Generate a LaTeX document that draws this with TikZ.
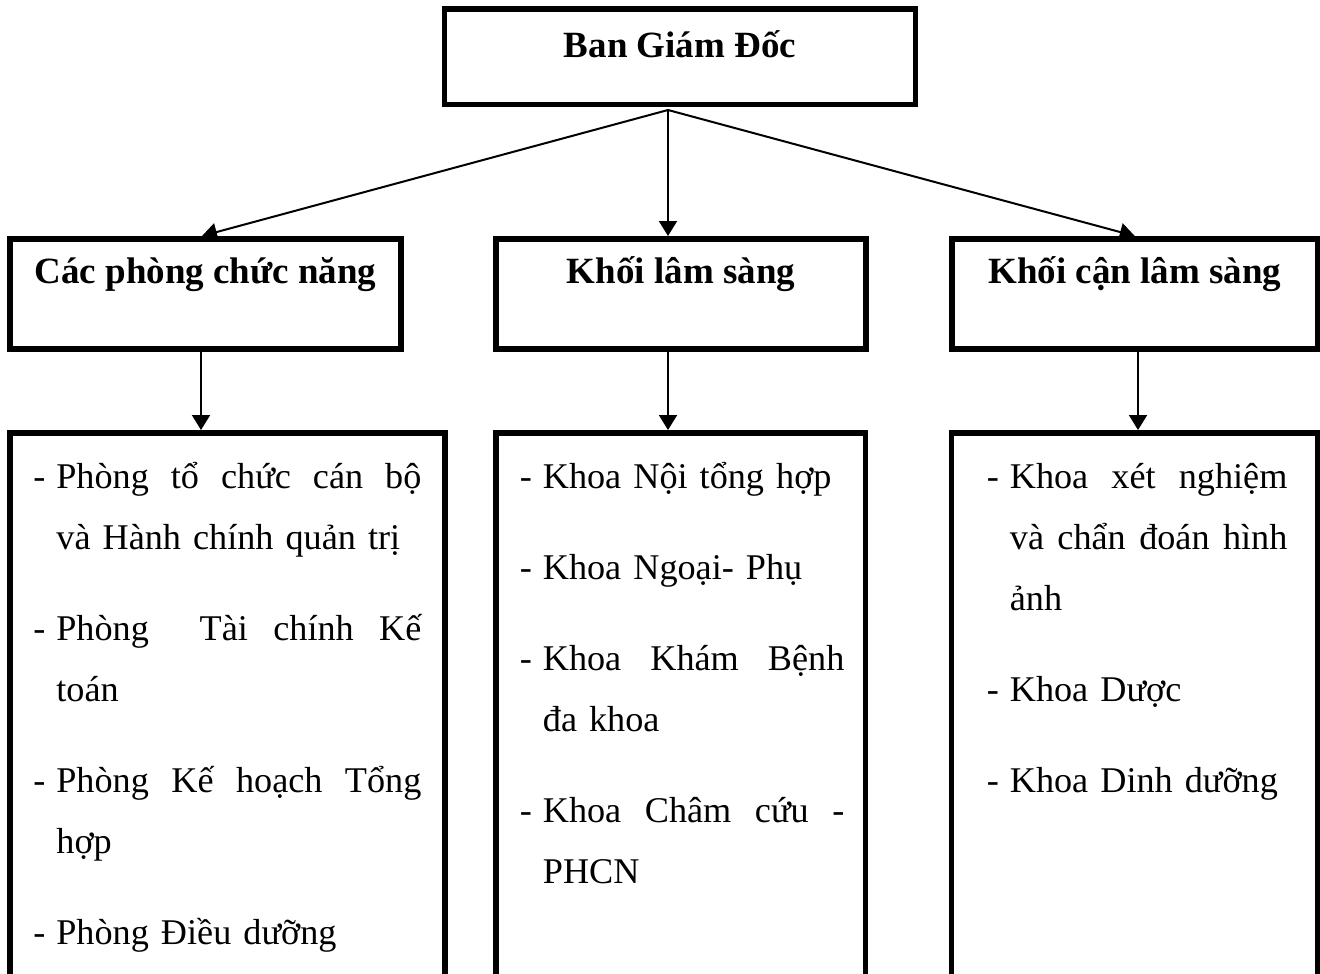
\documentclass[tikz,border=0pt]{standalone}
\usepackage{fontspec}
\setmainfont{Liberation Serif}
\usetikzlibrary{arrows.meta}
\newcommand{\spalte}{0pt}
\newcommand{\voll}[1]{\hbox to \spalte{\spaceskip=\fontdimen2\font plus 1fil\relax #1}}
\newcommand{\gach}{\leavevmode\llap{-\hspace{5.5pt}}}

\begin{document}
\begin{tikzpicture}[x=0.5pt,y=-0.5pt,
		kasten/.style={draw, line width=2.75pt, inner sep=0pt},
		kopf/.style={kasten, font=\bfseries\fontsize{18.5}{22}\selectfont, text height=22.125pt, text depth=33pt},
		liste/.style={anchor=base west, inner sep=0pt, align=left, text width=#1,
			execute at begin node={\renewcommand{\spalte}{#1}}, font=\fontsize{18.1}{30.5}\selectfont},
		pfeil/.style={-{Triangle[length=7.5pt,width=9pt]}, line width=1pt}]
		% Rahmen
		\useasboundingbox (0,0) rectangle (1320,973);
		\clip (0,0) rectangle (1320,973);

		% Koordinaten
		\coordinate (v) at (668,110);
		\coordinate (ta) at (201,0);
		\coordinate (tc) at (1138,0);

		% Kaesten oben
		\node[kasten, font=\bfseries\fontsize{18.5}{22}\selectfont, minimum width=235.5pt, text height=24.5pt, text depth=23.25pt] (bgd) at (680,56.75) {Ban Giám Đốc};
		\node[kopf, minimum width=195.5pt] (pcn) at (205.5,293.875) {Các phòng chức năng};
		\node[kopf, minimum width=185pt] (kls) at (681,293.875) {Khối lâm sàng};
		\node[kopf, minimum width=182.75pt] (kcls) at (1134.75,293.875) {Khối cận lâm sàng};

		% Kaesten unten
		\node[kasten, minimum width=217.5pt, minimum height=288.625pt] (dpcn) at (227.5,721.4) {};
		\node[kasten, minimum width=184.75pt, minimum height=288.625pt] (dkls) at (680.75,721.4) {};
		\node[kasten, minimum width=183pt, minimum height=288.625pt] (dkcls) at (1134.5,721.4) {};

		% Pfeile
		\draw[pfeil] (v) -- ([xshift=-1.75pt]pcn.north);
		\draw[pfeil] (v) -- (v |- kls.north);
		\draw[pfeil] (v) -- (kcls.north);
		\draw[pfeil] (ta |- pcn.south) -- (ta |- dpcn.north);
		\draw[pfeil] (v |- kls.south) -- (v |- dkls.north);
		\draw[pfeil] (tc |- kcls.south) -- (tc |- dkcls.north);

		% Texte
		\node[liste=182.5pt] (l1) at (56,488) {\gach\voll{Phòng tổ chức cán bộ}\\ và Hành chính quản trị\\[15pt] \gach\voll{Phòng\ \ Tài chính Kế}\\ toán\\[15pt] \gach\voll{Phòng Kế hoạch Tổng}\\ hợp\\[15pt] \gach Phòng Điều dưỡng};
		\node[liste=150.75pt] (l2) at (542.5,488) {\gach Khoa Nội tổng hợp\\[15pt] \gach Khoa Ngoại- Phụ\\[15pt] \gach\voll{Khoa Khám Bệnh}\\ đa khoa\\[15pt] \gach\voll{Khoa Châm cứu -}\\ PHCN};
		\node[liste=138.75pt] (l3) at (1009.5,488) {\gach\voll{Khoa xét nghiệm}\\ \leavevmode\voll{và chẩn đoán hình}\\ ảnh\\[15pt] \gach Khoa Dược\\[15pt] \gach Khoa Dinh dưỡng};
	\end{tikzpicture}
\end{document}
